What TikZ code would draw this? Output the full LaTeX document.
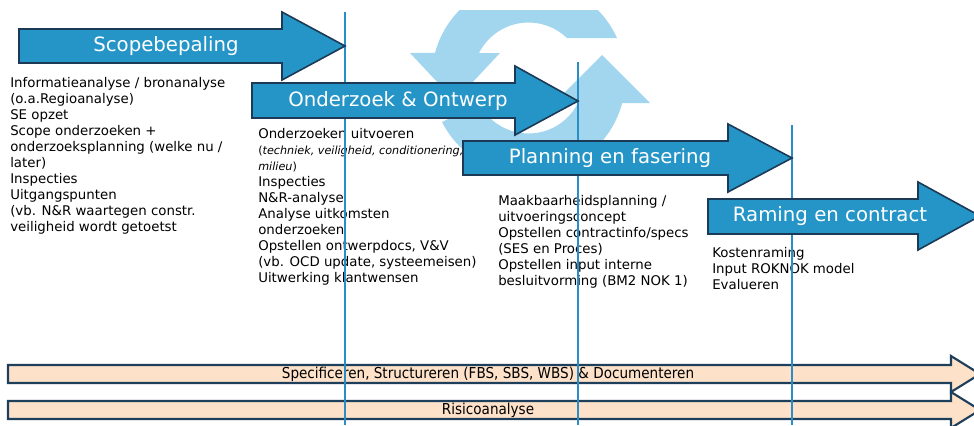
\documentclass[tikz,border=0pt]{standalone}
\usepackage{fontspec}
\setmainfont{DejaVu Sans}
\newfontfamily\narrowfont[FakeStretch=0.9]{DejaVu Sans}
\definecolor{arrowblue}{HTML}{2595C8}
\definecolor{arrowedge}{HTML}{1C3A56}
\definecolor{cycleblue}{HTML}{A2D6EE}
\definecolor{lineblue}{HTML}{2B8DC6}
\definecolor{barfill}{HTML}{FDE2C9}
\definecolor{baredge}{HTML}{1E3F5C}
\begin{document}
\begin{tikzpicture}[x=0.75pt,y=-0.75pt,
  phase/.style={fill=arrowblue,draw=arrowedge,line width=1.2pt,line join=miter},
  phaselabel/.style={text=white,font=\fontsize{14.8pt}{17pt}\selectfont,inner sep=0},
  bar/.style={fill=barfill,draw=baredge,line width=1.6pt,line join=miter},
  barlabel/.style={font=\narrowfont\fontsize{11.3pt}{13pt}\selectfont,inner sep=0},
  body/.style={anchor=north west,align=left,inner sep=0,font=\fontsize{10pt}{12pt}\selectfont},
  divider/.style={draw=lineblue,line width=1.5pt},
  cycle/.style={fill=cycleblue,draw=none}]

\clip (0,0) rectangle (974,425);

% refresh icon
\begin{scope}
  \clip (0,10) rectangle (974,425);
  \fill[cycle] (617,38) arc[start angle=-24.4,end angle=-165,radius=97]
     -- (410,53) -- (455,101) -- (500,53) -- (479,53)
     arc[start angle=-153.2,end angle=-46.1,radius=55.5] -- cycle;
  \fill[cycle] (622.2,103) arc[start angle=14.9,end angle=153,radius=97]
     -- (479,103.2) arc[start angle=153,end angle=26.8,radius=55.5]
     -- (554,103) -- (602,55) -- (650,103) -- cycle;
\end{scope}

% text blocks
\node[body] (t1) at (10,76.9) {\rule{0pt}{7.6pt}Informatieanalyse / bronanalyse\\(o.a.Regioanalyse)\\SE opzet\\Scope onderzoeken +\\onderzoeksplanning (welke nu /\\later)\\Inspecties\\Uitgangspunten\\(vb. N\&R waartegen constr.\\veiligheid wordt getoetst};
\node[body] (t2) at (258,127.9) {\rule{0pt}{7.6pt}Onderzoeken uitvoeren\\{\fontsize{8.4pt}{12pt}\selectfont(\textit{techniek, veiligheid, conditionering,}}\\{\fontsize{8.4pt}{12pt}\selectfont\textit{milieu})}\\Inspecties\\N\&R-analyse\\Analyse uitkomsten\\onderzoeken\\Opstellen ontwerpdocs, V\&V\\(vb. OCD update, systeemeisen)\\Uitwerking klantwensen};
\node[body] (t3) at (498,194.9) {\rule{0pt}{7.6pt}Maakbaarheidsplanning /\\uitvoeringsconcept\\Opstellen contractinfo/specs\\(SES en Proces)\\Opstellen input interne\\besluitvorming (BM2 NOK 1)};
\node[body] (t4) at (712,246.9) {\rule{0pt}{7.6pt}Kostenraming\\Input ROKNOK model\\Evalueren};

% bottom bars
\draw[bar] (8,365) -- (951,365) -- (951,356) -- (980,374) -- (951,392) -- (951,383) -- (8,383) -- cycle;
\draw[bar] (8,401) -- (951,401) -- (951,392) -- (980,410) -- (951,428) -- (951,419) -- (8,419) -- cycle;
\node[barlabel] (b1) at (488,374) {Specificeren, Structureren (FBS, SBS, WBS) \& Documenteren};
\node[barlabel] (b2) at (488,410) {Risicoanalyse};

% dividers
\coordinate (d1a) at (345,12);  \coordinate (d1b) at (345,425);
\coordinate (d2a) at (578,62);  \coordinate (d2b) at (578,425);
\coordinate (d3a) at (792,125); \coordinate (d3b) at (792,425);
\draw[divider] (d1a) -- (d1b);
\draw[divider] (d2a) -- (d2b);
\draw[divider] (d3a) -- (d3b);

% phase arrows
\draw[phase] (19,29) -- (282,29) -- (282,12) -- (345,46) -- (282,80) -- (282,63) -- (19,63) -- cycle;
\draw[phase] (252,83) -- (515,83) -- (515,66) -- (578,101) -- (515,135) -- (515,118) -- (252,118) -- cycle;
\draw[phase] (463,141) -- (728,141) -- (728,124) -- (792,158) -- (728,192) -- (728,175) -- (463,175) -- cycle;
\draw[phase] (708,199) -- (918,199) -- (918,182) -- (980,216) -- (918,250) -- (918,234) -- (708,234) -- cycle;

\node[phaselabel] (p1) at (166,46) {Scopebepaling};
\node[phaselabel] (p2) at (398,101) {Onderzoek \& Ontwerp};
\node[phaselabel] (p3) at (610,158) {Planning en fasering};
\node[phaselabel] (p4) at (830,216) {Raming en contract};
\end{tikzpicture}
\end{document}
